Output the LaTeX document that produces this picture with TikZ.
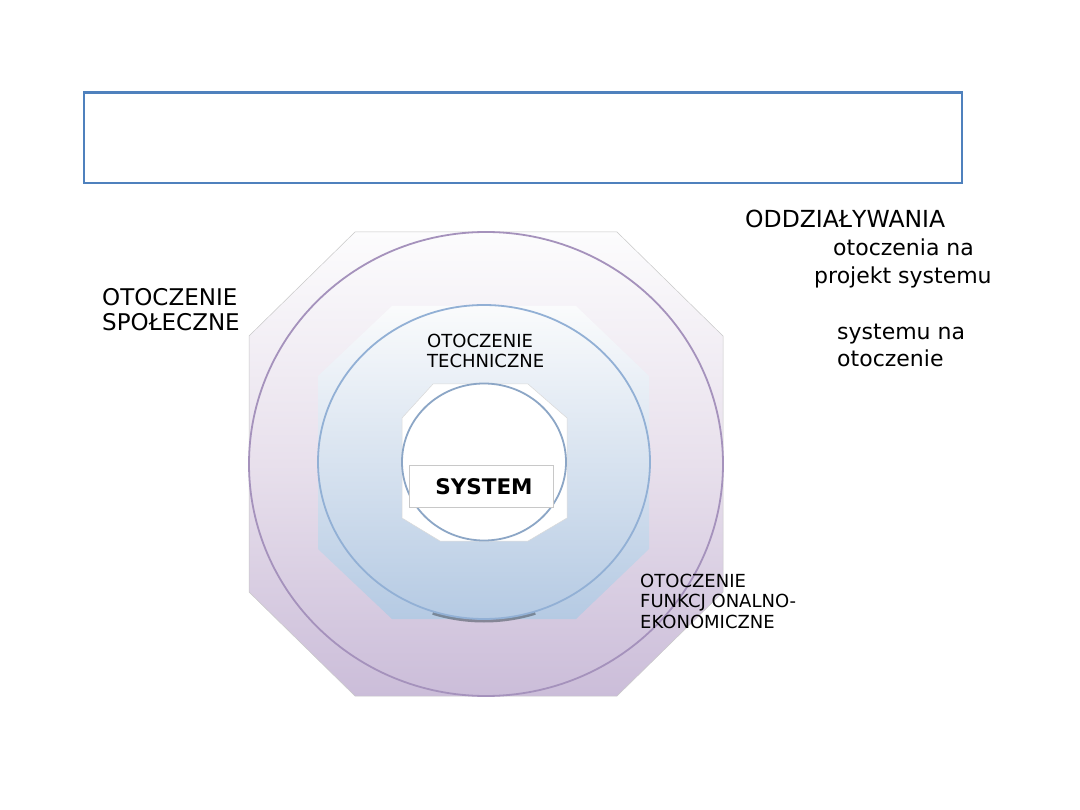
\documentclass[tikz,border=0pt]{standalone}
\usepackage{fontspec}
\setmainfont{DejaVu Sans}
\definecolor{hdrblue}{HTML}{4F81BD}
\definecolor{outtop}{HTML}{FCFCFD}
\definecolor{outmid}{HTML}{E8E0EC}
\definecolor{outbot}{HTML}{CBBDD9}
\definecolor{outring}{HTML}{A592BC}
\definecolor{midtop}{HTML}{FAFBFC}
\definecolor{midbot}{HTML}{B5CAE3}
\definecolor{midring}{HTML}{92B0D5}
\definecolor{inring}{HTML}{8CA6C6}
\definecolor{octedge}{HTML}{C8C8C8}
\tikzset{
  lbl/.style={inner sep=0pt, anchor=base west, align=left, text=black},
  big/.style={font=\fontsize{22}{25}\selectfont},
  bigger/.style={font=\fontsize{23.5}{26}\selectfont},
  small/.style={font=\fontsize{18}{20.5}\selectfont},
}
\begin{document}
\begin{tikzpicture}[x=1pt,y=-1pt]
\useasboundingbox (0,0) rectangle (1080,810);
\fill[white] (0,0) rectangle (1080,810);
% header box
\draw[hdrblue, line width=2.5pt] (84,92.5) rectangle (962,183);
% outer octagon
\shade[top color=outtop, bottom color=outbot, middle color=outmid]
  (355,232) -- (617,232) -- (723,336) -- (723,592) -- (617,696) -- (355,696) -- (249,592) -- (249,336) -- cycle;
\draw[octedge, line width=0.5pt]
  (355,232) -- (617,232) -- (723,336) -- (723,592) -- (617,696) -- (355,696) -- (249,592) -- (249,336) -- cycle;
\draw[outring, line width=1.8pt] (486,464) ellipse [x radius=237, y radius=232];
% middle octagon
\shade[top color=midtop, bottom color=midbot]
  (392,306) -- (576,306) -- (649,376) -- (649,549) -- (576,619) -- (392,619) -- (318,549) -- (318,376) -- cycle;
\draw[midbot!45!black, line width=3pt, opacity=0.6] (484,463) ++(72:166 and 158) arc[start angle=72, end angle=108, x radius=166, y radius=158];
\draw[midring, line width=1.8pt] (484,462) ellipse [x radius=166, y radius=157];
% inner octagon
\fill[white] (433,384) -- (528,384) -- (567,418) -- (567,518) -- (528,541) -- (440,541) -- (402,518) -- (402,418) -- cycle;
\draw[octedge!70, line width=0.5pt] (433,384) -- (528,384) -- (567,418) -- (567,518) -- (528,541) -- (440,541) -- (402,518) -- (402,418) -- cycle;
\draw[inring, line width=1.8pt] (484,462) ellipse [x radius=82, y radius=78.5];
% SYSTEM box
\node[draw=octedge, fill=white, line width=0.6pt, minimum width=144pt, minimum height=42pt, inner sep=0pt] (sys) at (481,486) {};
\node[inner sep=0pt, font=\fontsize{21.5}{24}\selectfont\bfseries] (systxt) at (484,487) {SYSTEM};
% labels
\node[lbl, font=\fontsize{23}{25}\selectfont] (spol) at (102,331) {OTOCZENIE\\SPOŁECZNE};
\node[lbl, small] (tech) at (427,368) {OTOCZENIE\\TECHNICZNE};
\node[lbl, small] (funk) at (640,628) {OTOCZENIE\\FUNKCJ ONALNO-\\EKONOMICZNE};
\node[lbl, bigger] (odd) at (745,228) {ODDZIAŁYWANIA};
\node[lbl, big] (o1) at (833,256) {otoczenia na};
\node[lbl, big] (o2) at (814,284) {projekt systemu};
\node[lbl, big] (o3) at (837,340) {systemu na};
\node[lbl, big] (o4) at (837,367) {otoczenie};
\end{tikzpicture}
\end{document}
